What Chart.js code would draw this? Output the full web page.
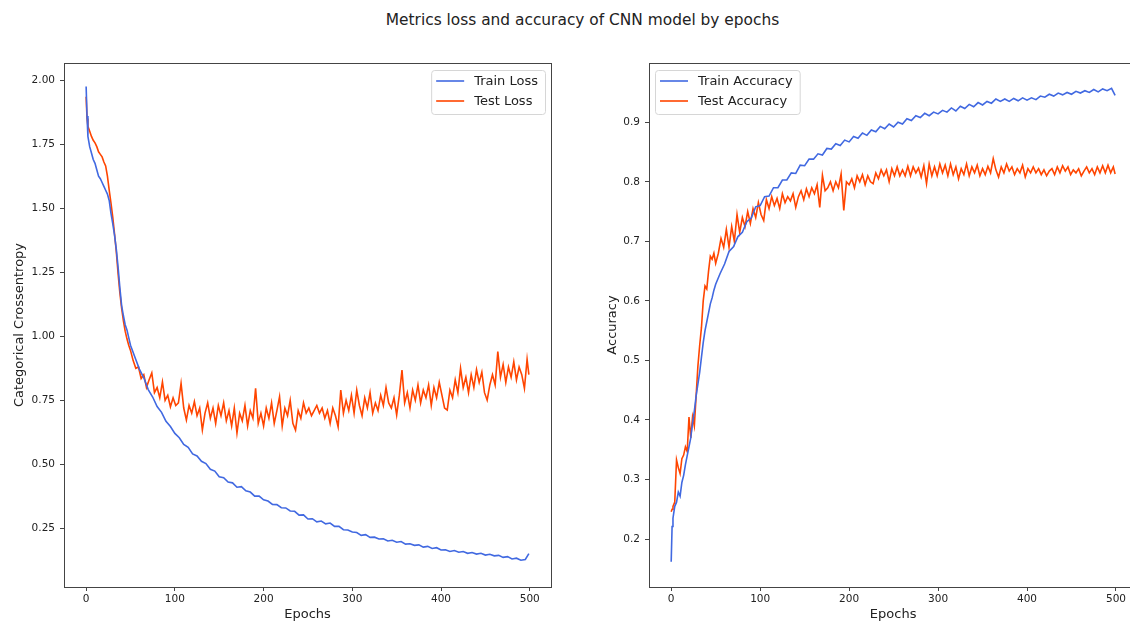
<!DOCTYPE html>
<html>
<head>
<meta charset="utf-8">
<script src="https://cdn.jsdelivr.net/npm/chart.js@4.4.1/dist/chart.umd.min.js"></script>
<style>
  html, body { margin: 0; padding: 0; background: #fff; overflow: hidden; width: 1130px; height: 621px; }
  #title { position: absolute; left: 0; top: 10px; width: 1165px; text-align: center;
           font-family: "DejaVu Sans"; font-size: 15.4px; line-height: 20px; color: #222; }
  canvas { position: absolute; top: 0; }
  #lossChart { left: 0; }
  #accChart { left: 575px; }
</style>
</head>
<body>
<div id="title">Metrics loss and accuracy of CNN model by epochs</div>
<canvas id="lossChart" width="565" height="621"></canvas>
<canvas id="accChart" width="575" height="621"></canvas>
<script>
// epochs for the train curves (smooth) - dense at the start, then every 5
const epochs = [0, 1, 2, 4, 6, 8, 10, 12, 14, 16, 18, 20, 22, 24, 26, 28, 30, 32, 34, 36, 38, 40, 42, 44, 46, 48, 50,
  55, 60, 65, 70, 75, 80, 85, 90, 95, 100,
  105, 110, 115, 120, 125, 130, 135, 140, 145, 150, 155, 160, 165, 170, 175, 180, 185, 190, 195, 200,
  205, 210, 215, 220, 225, 230, 235, 240, 245, 250, 255, 260, 265, 270, 275, 280, 285, 290, 295, 300,
  305, 310, 315, 320, 325, 330, 335, 340, 345, 350, 355, 360, 365, 370, 375, 380, 385, 390, 395, 400,
  405, 410, 415, 420, 425, 430, 435, 440, 445, 450, 455, 460, 465, 470, 475, 480, 485, 490, 495, 499];

// epochs for the noisier test curves - every 3 after 50
const testEpochs = [0, 1, 2, 4, 6, 8, 10, 12, 14, 16, 18, 20, 22, 24, 26, 28, 30, 32, 34, 36, 38, 40, 42, 44, 46, 48, 50,
  53, 56, 59, 62, 65, 68, 71, 74, 77, 80,
  83, 86, 89, 92, 95, 98, 101, 104, 107, 110,
  113, 116, 119, 122, 125, 128, 131, 134, 137, 140,
  143, 146, 149, 152, 155, 158, 161, 164, 167, 170,
  173, 176, 179, 182, 185, 188, 191, 194, 197, 200,
  203, 206, 209, 212, 215, 218, 221, 224, 227, 230,
  233, 236, 239, 242, 245, 248, 251, 254, 257, 260,
  263, 266, 269, 272, 275, 278, 281, 284, 287, 290,
  293, 296, 299, 302, 305, 308, 311, 314, 317, 320,
  323, 326, 329, 332, 335, 338, 341, 344, 347, 350,
  353, 356, 359, 362, 365, 368, 371, 374, 377, 380,
  383, 386, 389, 392, 395, 398, 401, 404, 407, 410,
  413, 416, 419, 422, 425, 428, 431, 434, 437, 440,
  443, 446, 449, 452, 455, 458, 461, 464, 467, 470,
  473, 476, 479, 482, 485, 488, 491, 494, 497, 499];

const trainLoss = [1.975, 1.86, 1.78, 1.74, 1.715, 1.69, 1.675, 1.65, 1.625, 1.615, 1.60, 1.585, 1.57, 1.555, 1.53, 1.48, 1.44, 1.395, 1.34, 1.27, 1.19, 1.12, 1.08, 1.045, 1.025, 0.995, 0.965,
  0.918, 0.872, 0.838, 0.792, 0.763, 0.726, 0.703, 0.668, 0.648, 0.621,
  0.604, 0.578, 0.567, 0.541, 0.533, 0.512, 0.503, 0.481, 0.474, 0.452, 0.448, 0.431, 0.428, 0.411, 0.413, 0.397, 0.392, 0.376, 0.376, 0.362,
  0.357, 0.344, 0.343, 0.331, 0.330, 0.318, 0.317, 0.302, 0.303, 0.287, 0.288, 0.276, 0.279, 0.268, 0.271, 0.258, 0.258, 0.245, 0.244, 0.236,
  0.234, 0.223, 0.226, 0.215, 0.216, 0.209, 0.210, 0.201, 0.204, 0.196, 0.199, 0.189, 0.190, 0.184, 0.186, 0.177, 0.180, 0.172, 0.175, 0.166,
  0.167, 0.160, 0.164, 0.157, 0.160, 0.153, 0.156, 0.150, 0.153, 0.146, 0.149, 0.143, 0.145, 0.137, 0.140, 0.131, 0.134, 0.126, 0.129, 0.152];

const testLoss = [1.935, 1.85, 1.82, 1.80, 1.78, 1.765, 1.755, 1.74, 1.72, 1.71, 1.70, 1.68, 1.665, 1.625, 1.57, 1.52, 1.465, 1.40, 1.33, 1.245, 1.17, 1.11, 1.06, 1.02, 0.99, 0.965, 0.945,
  0.905, 0.875, 0.88, 0.835, 0.85, 0.80, 0.83, 0.857, 0.78, 0.80,
  0.76, 0.822, 0.75, 0.77, 0.725, 0.76, 0.73, 0.74, 0.816, 0.72,
  0.673, 0.73, 0.70, 0.745, 0.69, 0.72, 0.634, 0.70, 0.74, 0.68,
  0.72, 0.66, 0.73, 0.69, 0.74, 0.67, 0.71, 0.65, 0.72, 0.622,
  0.70, 0.67, 0.73, 0.65, 0.71, 0.68, 0.797, 0.66, 0.70, 0.65,
  0.72, 0.68, 0.74, 0.66, 0.71, 0.764, 0.65, 0.72, 0.69, 0.75,
  0.66, 0.634, 0.71, 0.68, 0.74, 0.70, 0.72, 0.69, 0.71, 0.73,
  0.70, 0.72, 0.68, 0.71, 0.66, 0.72, 0.69, 0.647, 0.79, 0.70,
  0.75, 0.71, 0.77, 0.70, 0.79, 0.73, 0.69, 0.76, 0.72, 0.78,
  0.70, 0.74, 0.71, 0.77, 0.73, 0.80, 0.74, 0.72, 0.76, 0.693,
  0.77, 0.868, 0.74, 0.78, 0.72, 0.79, 0.75, 0.81, 0.74, 0.79,
  0.76, 0.81, 0.73, 0.80, 0.76, 0.82, 0.77, 0.72, 0.712, 0.79,
  0.76, 0.83, 0.78, 0.875, 0.80, 0.84, 0.78, 0.85, 0.80, 0.87,
  0.82, 0.86, 0.78, 0.751, 0.81, 0.85, 0.81, 0.94, 0.84, 0.89,
  0.82, 0.88, 0.84, 0.90, 0.83, 0.88, 0.85, 0.797, 0.91, 0.85];

const trainAcc = [0.162, 0.221, 0.235, 0.255, 0.262, 0.279, 0.272, 0.295, 0.307, 0.325, 0.34, 0.355, 0.37, 0.395, 0.415, 0.44, 0.46, 0.48, 0.505, 0.53, 0.55, 0.565, 0.58, 0.595, 0.605, 0.618, 0.628,
  0.646, 0.662, 0.683, 0.691, 0.708, 0.715, 0.733, 0.739, 0.758, 0.760,
  0.775, 0.776, 0.790, 0.790, 0.803, 0.803, 0.815, 0.814, 0.828, 0.827, 0.838, 0.838, 0.847, 0.845, 0.856, 0.855, 0.864, 0.861, 0.870, 0.867,
  0.876, 0.873, 0.882, 0.878, 0.887, 0.884, 0.893, 0.889, 0.897, 0.892, 0.900, 0.897, 0.906, 0.903, 0.911, 0.908, 0.915, 0.911, 0.917, 0.914,
  0.920, 0.917, 0.924, 0.919, 0.927, 0.923, 0.930, 0.926, 0.933, 0.929, 0.935, 0.932, 0.939, 0.935, 0.939, 0.935, 0.940, 0.936, 0.941, 0.937,
  0.941, 0.938, 0.944, 0.942, 0.947, 0.944, 0.949, 0.946, 0.950, 0.947, 0.952, 0.949, 0.953, 0.950, 0.955, 0.951, 0.956, 0.953, 0.957, 0.945];

const testAcc = [0.246, 0.25, 0.255, 0.262, 0.333, 0.32, 0.31, 0.335, 0.341, 0.355, 0.347, 0.405, 0.37, 0.405, 0.39, 0.44, 0.49, 0.525, 0.555, 0.60, 0.625, 0.62, 0.65, 0.675, 0.67, 0.68, 0.663,
  0.68, 0.705, 0.69, 0.72, 0.69, 0.725, 0.70, 0.745, 0.715, 0.74,
  0.725, 0.75, 0.73, 0.755, 0.74, 0.765, 0.745, 0.735, 0.77, 0.755,
  0.775, 0.76, 0.772, 0.755, 0.78, 0.765, 0.775, 0.768, 0.78, 0.757,
  0.775, 0.785, 0.77, 0.788, 0.775, 0.79, 0.78, 0.795, 0.757, 0.811,
  0.785, 0.79, 0.80, 0.785, 0.80, 0.79, 0.813, 0.752, 0.80, 0.795,
  0.805, 0.79, 0.81, 0.80, 0.812, 0.795, 0.81, 0.80, 0.797, 0.815,
  0.805, 0.82, 0.81, 0.82, 0.80, 0.822, 0.81, 0.825, 0.81, 0.82,
  0.81, 0.826, 0.81, 0.825, 0.815, 0.823, 0.808, 0.827, 0.797, 0.83,
  0.81, 0.825, 0.81, 0.83, 0.815, 0.828, 0.81, 0.83, 0.812, 0.825,
  0.805, 0.822, 0.812, 0.83, 0.81, 0.825, 0.815, 0.828, 0.81, 0.822,
  0.812, 0.826, 0.815, 0.839, 0.82, 0.808, 0.825, 0.815, 0.83, 0.818,
  0.825, 0.812, 0.822, 0.815, 0.828, 0.808, 0.822, 0.815, 0.825, 0.815,
  0.822, 0.812, 0.82, 0.81, 0.818, 0.822, 0.812, 0.825, 0.815, 0.827,
  0.818, 0.825, 0.812, 0.82, 0.815, 0.822, 0.81, 0.818, 0.825, 0.815,
  0.822, 0.812, 0.825, 0.815, 0.827, 0.815, 0.828, 0.815, 0.825, 0.813];

// tick labels
const epochTicks = [0, 100, 200, 300, 400, 500];
const lossTicks = [0.25, 0.50, 0.75, 1.00, 1.25, 1.50, 1.75, 2.00];
const accTicks = [0.2, 0.3, 0.4, 0.5, 0.6, 0.7, 0.8, 0.9];

const BLUE = '#4169e1';
const RED = '#ff4500';
const INK = '#222';
const FONT = 'DejaVu Sans';

const pts = (xs, ys) => xs.map((e, i) => ({ x: e, y: ys[i] }));

// axes spines round the plot area
const framePlugin = {
    id: 'frame',
    afterDraw(chart) {
        const { ctx, chartArea: a } = chart;
        ctx.save();
        ctx.strokeStyle = '#444';
        ctx.lineWidth = 1;
        ctx.strokeRect(Math.round(a.left) + 0.5, Math.round(a.top) + 0.5,
            Math.round(a.right - a.left), Math.round(a.bottom - a.top));
        ctx.restore();
    }
};

// matplotlib-like legend box inside the plot
const boxLegendPlugin = {
    id: 'boxLegend',
    afterDatasetsDraw(chart, args, opts) {
        const { ctx, chartArea: a } = chart;
        const sets = chart.data.datasets;
        ctx.save();
        ctx.font = `13px "${FONT}"`;
        const textW = Math.max(...sets.map(d => ctx.measureText(d.label).width));
        const w = 5 + 28 + 10 + textW + 7;
        const h = 44;
        const x = opts.side === 'right' ? a.right - 6 - w : a.left + 6;
        const y = a.top + 7;
        ctx.beginPath();
        ctx.roundRect(x + 0.5, y + 0.5, w, h, 3);
        ctx.fillStyle = 'rgba(255,255,255,0.85)';
        ctx.fill();
        ctx.strokeStyle = '#d6d6d6';
        ctx.lineWidth = 1;
        ctx.stroke();
        sets.forEach((d, i) => {
            const cy = y + 11 + i * 20;
            ctx.beginPath();
            ctx.moveTo(x + 5, cy);
            ctx.lineTo(x + 33, cy);
            ctx.strokeStyle = d.borderColor;
            ctx.lineWidth = 1.6;
            ctx.stroke();
            ctx.fillStyle = INK;
            ctx.textBaseline = 'middle';
            ctx.fillText(d.label, x + 43, cy + 1);
        });
        ctx.restore();
    }
};

function makeChart(id, cfg) {
    return new Chart(document.getElementById(id), {
        type: 'line',
        data: {
            datasets: [
                { label: cfg.labels[0], data: pts(epochs, cfg.train), borderColor: BLUE, backgroundColor: BLUE },
                { label: cfg.labels[1], data: pts(testEpochs, cfg.test), borderColor: RED, backgroundColor: RED },
            ]
        },
        options: {
            responsive: false,
            animation: false,
            devicePixelRatio: 1,
            layout: { padding: { top: 63, right: cfg.padRight, left: 0, bottom: 0 } },
            elements: {
                point: { radius: 0 },
                line: { borderWidth: 1.6, tension: 0 }
            },
            plugins: {
                legend: { display: false },
                tooltip: { enabled: false },
                boxLegend: { side: cfg.legendSide }
            },
            scales: {
                x: {
                    type: 'linear',
                    min: -24.95,
                    max: 523.95,
                    afterBuildTicks: (s) => { s.ticks = epochTicks.map(v => ({ value: v })); },
                    afterFit: (s) => { s.height = 34; },
                    grid: { drawOnChartArea: false, tickLength: 4, color: '#444' },
                    border: { display: false },
                    ticks: { color: INK, padding: 2, font: { family: FONT, size: 10.5 } },
                    title: {
                        display: true, text: 'Epochs', color: INK, padding: 0,
                        font: { family: FONT, size: 13, lineHeight: 1 }
                    }
                },
                y: {
                    type: 'linear',
                    min: cfg.yMin,
                    max: cfg.yMax,
                    afterBuildTicks: (s) => { s.ticks = cfg.yTicks.map(v => ({ value: v })); },
                    afterFit: (s) => { s.width = cfg.yWidth; },
                    grid: { drawOnChartArea: false, tickLength: 4, color: '#444' },
                    border: { display: false },
                    ticks: {
                        color: INK, padding: 5, font: { family: FONT, size: 10.5 },
                        callback: (v) => v.toFixed(cfg.decimals)
                    },
                    title: {
                        display: true, text: cfg.yTitle, color: INK,
                        padding: { top: cfg.yTitlePad, bottom: 0 },
                        font: { family: FONT, size: 13 }
                    }
                }
            }
        },
        plugins: [framePlugin, boxLegendPlugin]
    });
}

makeChart('lossChart', {
    labels: ['Train Loss', 'Test Loss'],
    train: trainLoss,
    test: testLoss,
    yMin: 0.0215, yMax: 2.0665,
    yTicks: lossTicks,
    decimals: 2,
    yTitle: 'Categorical Crossentropy',
    yTitlePad: 12,
    yWidth: 64,
    padRight: 14,
    legendSide: 'right'
});

makeChart('accChart', {
    labels: ['Train Accuracy', 'Test Accuracy'],
    train: trainAcc,
    test: testAcc,
    yMin: 0.1195, yMax: 0.9995,
    yTicks: accTicks,
    decimals: 1,
    yTitle: 'Accuracy',
    yTitlePad: 30,
    yWidth: 74,
    padRight: 12.7,
    legendSide: 'left'
});
</script>
</body>
</html>
